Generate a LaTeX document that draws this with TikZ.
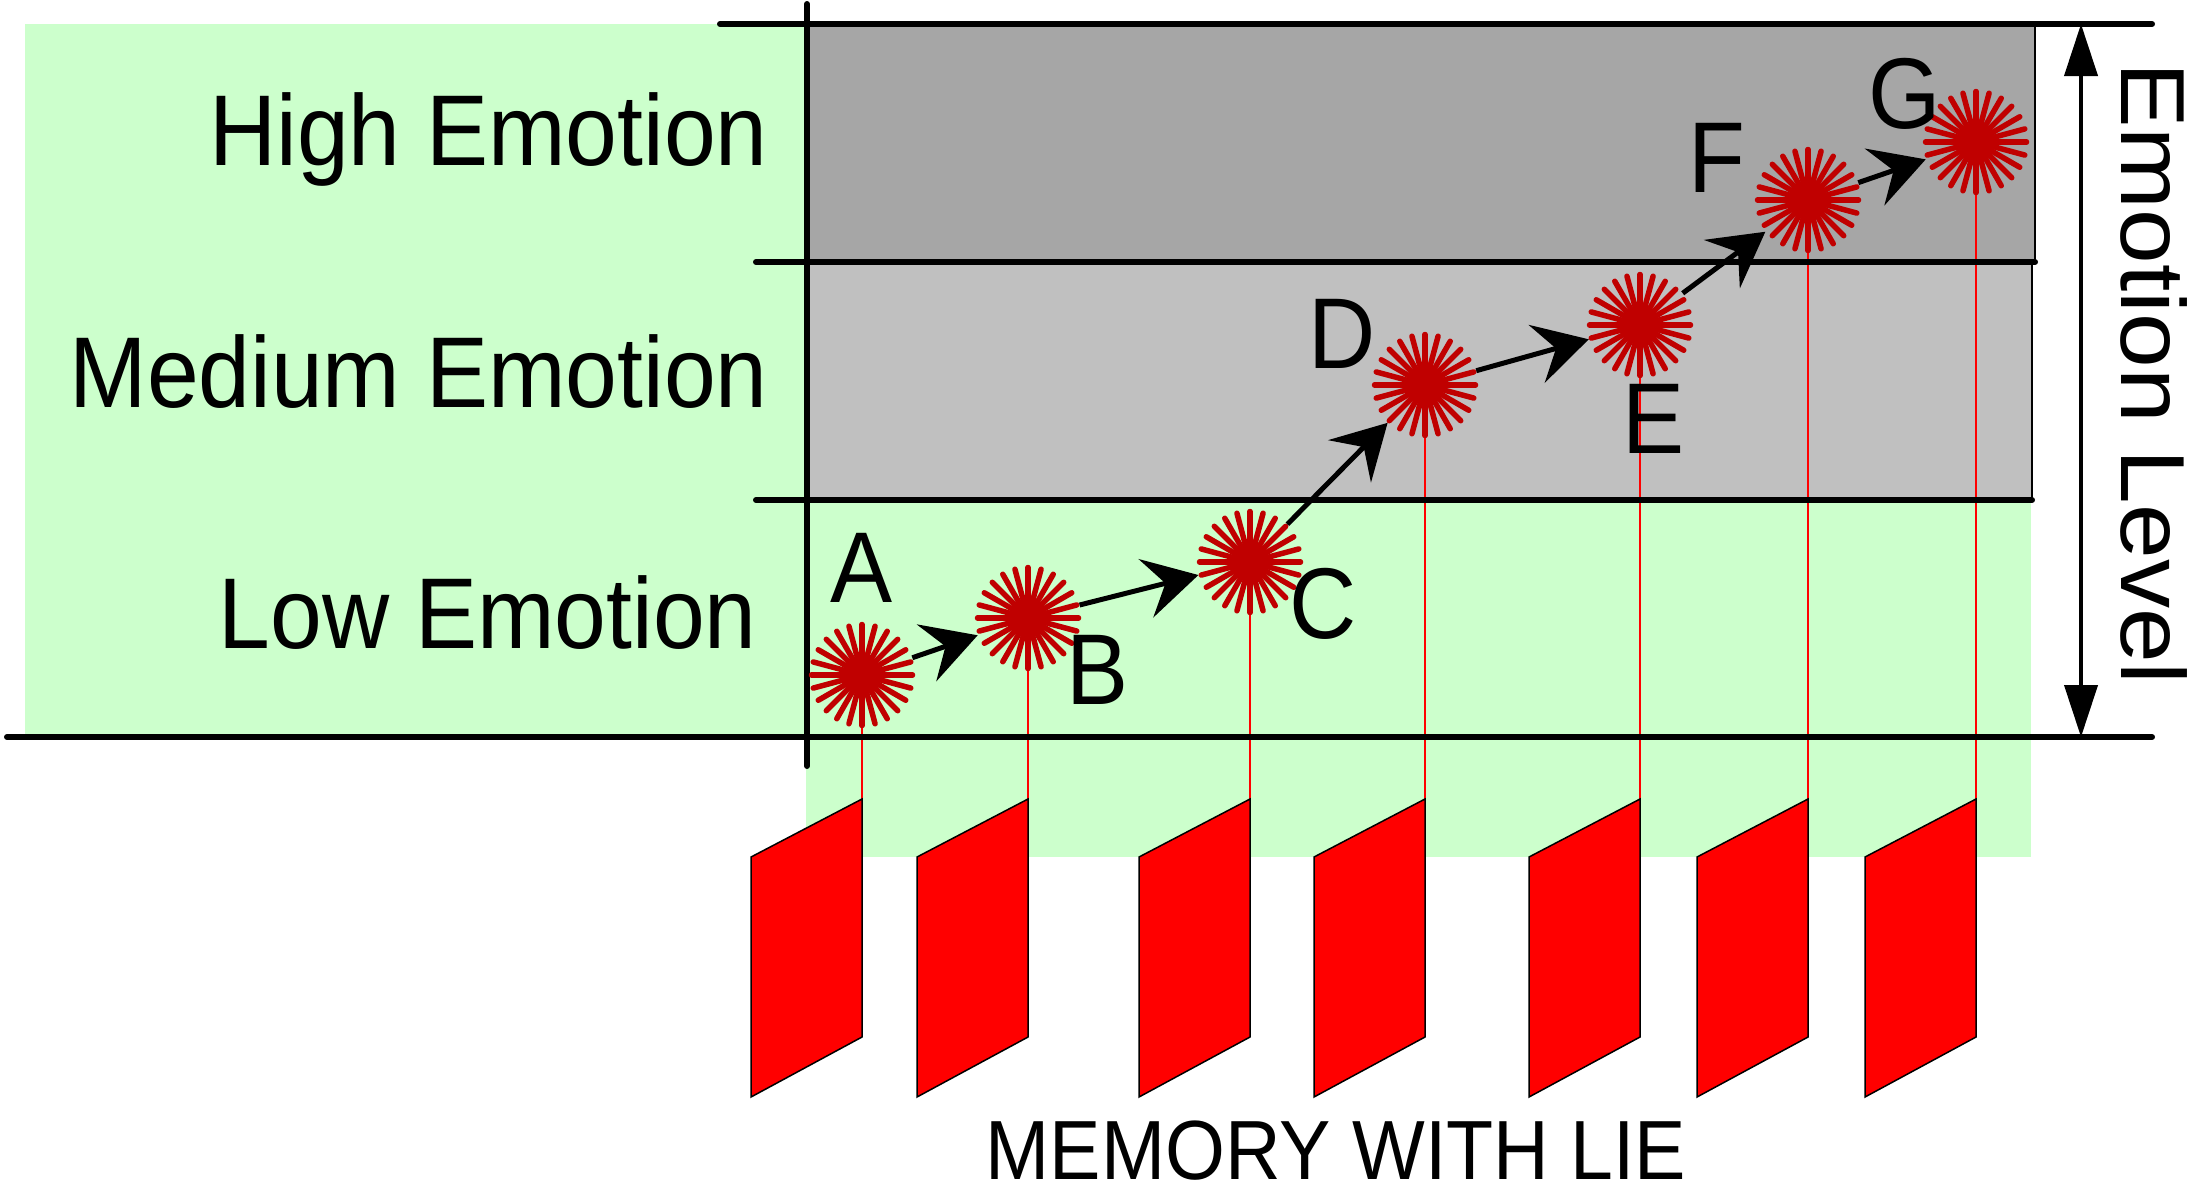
\documentclass[tikz,border=0pt]{standalone}
\usepackage{fontspec}
\setmainfont{Liberation Sans}
\usepackage{graphicx}
\usetikzlibrary{arrows.meta}
\definecolor{bggreen}{RGB}{204,255,204}
\definecolor{boxdark}{RGB}{166,166,166}
\definecolor{boxlight}{RGB}{192,192,192}
\definecolor{starred}{RGB}{192,0,0}
\definecolor{pure}{RGB}{255,0,0}
\newcommand\lblfont{\fontsize{100.6bp}{110bp}\selectfont}
\newcommand\hs[1]{\scalebox{0.925}[1]{#1}}
\newcommand\burst[1]{%
  \fill[starred] (#1.center) circle (19bp);
  \foreach \a in {0,15,...,345}{\draw[spoke] (#1.center) -- ++(\a:50.5bp);}%
}
\begin{document}
\begin{tikzpicture}[x=1bp,y=-1bp,
  axisline/.style={line width=6bp,line cap=round},
  edgeline/.style={line width=2bp},
  lbl/.style={inner sep=0pt,font=\lblfont},
  burstnode/.style={circle,minimum size=106bp,inner sep=0pt},
  spoke/.style={starred,line width=5.5bp,line cap=round},
  stepar/.style={line width=5bp,-{Stealth[length=54bp,width=60bp,inset=20bp]}},
  flag/.style={fill=pure,draw=black,line width=1.5bp,line join=miter},
  tether/.style={draw=pure,line width=2bp},
  levelar/.style={line width=4bp,{Triangle[length=52bp,width=33bp]}-{Triangle[length=52bp,width=33bp]}}]
\useasboundingbox (0,0) rectangle (2193,1189);
% backgrounds
\fill[bggreen] (25,24) rectangle (806,737);
\fill[bggreen] (806,499) rectangle (2031,857);
\fill[boxdark] (806,24) rectangle (2035,262);
\draw[edgeline] (2035,24) -- (2035,262);
\fill[boxlight] (806,262) rectangle (2032,499);
\draw[edgeline] (2032,262) -- (2032,499);
% burst nodes and flag anchors
\foreach \n/\x/\y in {A/862/675, B/1028/618, C/1250/562, D/1425/385, E/1640/325, F/1808/200, G/1976/142}{
  \node[burstnode] (\n) at (\x,\y) {};
  \coordinate (p\n) at (\x,799);
}
% tethers and flags
\foreach \n in {A,B,C,D,E,F,G}{
  \draw[tether] (\n.center) -- (p\n);
  \filldraw[flag] (p\n) -- ++(0,238) -- ++(-111,60) -- ++(0,-240) -- cycle;
}
% black lines
\draw[axisline] (720,24) -- (2152,24);
\draw[axisline] (756,262) -- (2035,262);
\draw[axisline] (756,500) -- (2032,500);
\draw[axisline] (7,737) -- (2152,737);
\draw[axisline] (807,4) -- (807,766);
% level arrow
\coordinate (lvtop) at (2081,24);
\coordinate (lvbot) at (2081,737);
\draw[levelar] (lvtop) -- (lvbot);
% bursts
\foreach \n in {A,B,C,D,E,F,G}{\burst{\n}}
% arrows
\draw[stepar] (A) -- (B);
\draw[stepar] (B) -- (C);
\draw[stepar] (C) -- (D);
\draw[stepar] (D) -- (E);
\draw[stepar] (E) -- (F);
\draw[stepar] (F) -- (G);
% labels
\node[lbl,anchor=base east] (hi) at (768,165) {\hs{High Emotion}};
\node[lbl,anchor=base east] (mid) at (768,407) {\hs{Medium Emotion}};
\node[lbl,anchor=base east] (lo) at (757,648) {\hs{Low Emotion}};
\node[lbl,anchor=base] (lA) at (862,602) {\hs{A}};
\node[lbl,anchor=base] (lB) at (1098,704) {\hs{B}};
\node[lbl,anchor=base] (lC) at (1323,638) {\hs{C}};
\node[lbl,anchor=base] (lD) at (1342,368) {\hs{D}};
\node[lbl,anchor=base] (lE) at (1654,453) {\hs{E}};
\node[lbl,anchor=base] (lF) at (1717,192) {\hs{F}};
\node[lbl,anchor=base] (lG) at (1905,128) {\hs{G}};
\node[inner sep=0pt,font=\fontsize{91bp}{100bp}\selectfont,rotate=-90,anchor=base west] (lvl) at (2121,62) {\scalebox{1.08}[1]{Emotion Level}};
\node[inner sep=0pt,text depth=0pt,font=\fontsize{84bp}{90bp}\selectfont,anchor=base] (mem) at (1336,1179) {\scalebox{0.917}[1]{MEMORY WITH LIE}};
\end{tikzpicture}
\end{document}
